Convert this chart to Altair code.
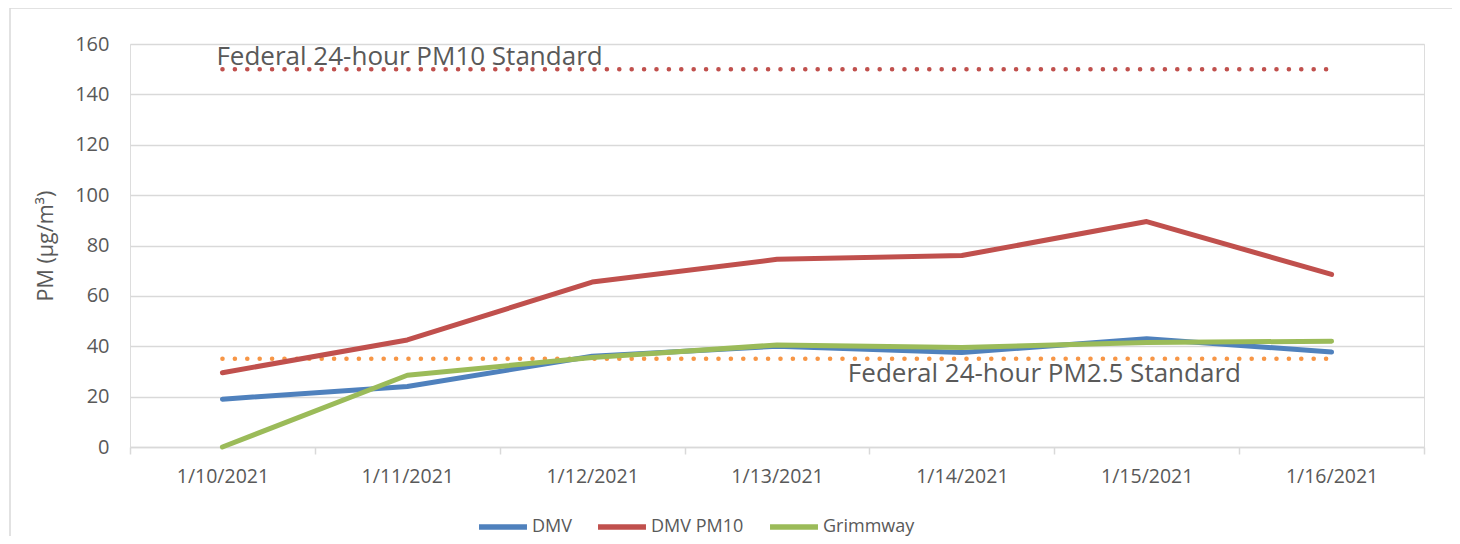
import altair as alt
import pandas as pd

dates = ["1/10/2021", "1/11/2021", "1/12/2021", "1/13/2021", "1/14/2021", "1/15/2021", "1/16/2021"]
dmv = [19.0, 24.0, 36.0, 40.0, 37.5, 43.0, 37.7]
dmv_pm10 = [29.5, 42.5, 65.5, 74.5, 76.0, 89.5, 68.5]
grimmway = [0.0, 28.5, 35.5, 40.5, 39.5, 41.5, 42.0]
pm10_std = 150
pm25_std = 35
series_names = ["DMV", "DMV PM10", "Grimmway"]
series_colors = ["#4f81bd", "#c0504d", "#9bbb59"]

FONT = "Open Sans"
GRAY = "#595959"
GRID = "#d9d9d9"

rows = []
for name, vals in zip(series_names, [dmv, dmv_pm10, grimmway]):
    for d, v in zip(dates, vals):
        rows.append({"date": d, "value": v, "series": name})
df = pd.DataFrame(rows)

pm10_df = pd.DataFrame({"date": dates, "value": [pm10_std] * len(dates)})
pm25_df = pd.DataFrame({"date": dates, "value": [pm25_std] * len(dates)})

x_enc = alt.X(
    "date:N",
    sort=dates,
    title=None,
    scale=alt.Scale(type="band", paddingInner=0, paddingOuter=0),
    axis=alt.Axis(
        tickBand="extent",
        labelAngle=0,
        labelFont=FONT,
        labelFontSize=19.5,
        labelColor=GRAY,
        labelPadding=13,
        domainColor=GRID,
        domainWidth=1.5,
        tickColor=GRID,
        tickWidth=1.5,
        tickSize=7,
        grid=False,
    ),
)
y_enc = alt.Y(
    "value:Q",
    title="PM (µg/m³)",
    scale=alt.Scale(domain=[0, 160], nice=False),
    axis=alt.Axis(
        values=[0, 20, 40, 60, 80, 100, 120, 140, 160],
        labelFont=FONT,
        labelFontSize=20,
        labelColor=GRAY,
        labelPadding=21,
        domain=False,
        ticks=False,
        gridColor=GRID,
        gridWidth=1.5,
        titleFont=FONT,
        titleFontSize=21.5,
        titleFontWeight="normal",
        titleColor=GRAY,
        titlePadding=17,
    ),
)

frame = alt.Chart(pd.DataFrame({"a": [0]})).mark_rect(
    fillOpacity=0, stroke=GRID, strokeWidth=1.5
).encode(
    x=alt.value(-120), x2=alt.value(1323), y=alt.value(-36), y2=alt.value(520)
)

dot_style = dict(strokeWidth=4.5, strokeCap="round", strokeDash=[0.1, 12.3])
pm10_line = alt.Chart(pm10_df).mark_line(color="#c0504d", **dot_style).encode(x=x_enc, y=y_enc)
pm25_line = alt.Chart(pm25_df).mark_line(color="#f79646", **dot_style).encode(x=x_enc, y=y_enc)

lines = alt.Chart(df).mark_line(strokeWidth=5, strokeCap="round", strokeJoin="round").encode(
    x=x_enc,
    y=y_enc,
    color=alt.Color(
        "series:N",
        scale=alt.Scale(domain=series_names, range=series_colors),
        legend=alt.Legend(
            title=None,
            orient="none",
            legendX=346,
            legendY=456,
            direction="horizontal",
            symbolType="stroke",
            symbolSize=2300,
            symbolStrokeWidth=5.5,
            labelFont=FONT,
            labelFontSize=18,
            labelColor=GRAY,
            labelOffset=2,
            columnPadding=15,
        ),
    ),
)

ann_df = pd.DataFrame([
    {"date": "1/10/2021", "value": 155, "label": "Federal 24-hour PM10 Standard"},
])
ann_df2 = pd.DataFrame([
    {"date": "1/14/2021", "value": 29, "label": "Federal 24-hour PM2.5 Standard"},
])
ann1 = alt.Chart(ann_df).mark_text(
    align="left", baseline="middle", font=FONT, fontSize=26, color=GRAY, dx=-6
).encode(x=alt.X("date:N", sort=dates), y="value:Q", text="label:N")
ann2 = alt.Chart(ann_df2).mark_text(
    align="left", baseline="middle", font=FONT, fontSize=26, color=GRAY, dx=-114
).encode(x=alt.X("date:N", sort=dates), y="value:Q", text="label:N")

chart = alt.layer(frame, pm10_line, pm25_line, lines, ann1, ann2).properties(
    width=1294,
    height=403,
    autosize=alt.AutoSizeParams(type="none"),
    padding={"left": 122, "top": 36, "right": 28, "bottom": 89},
).configure_view(stroke=None).configure(background="white")

chart.save("out.html", embed_options={"renderer": "svg", "actions": False})
